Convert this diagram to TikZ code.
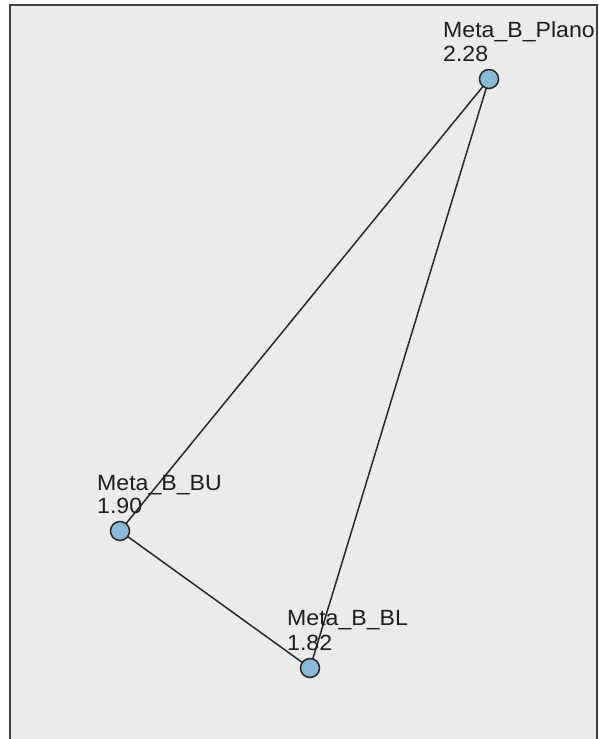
\documentclass[tikz,border=0pt]{standalone}
\usepackage{fontspec}
\setmainfont{Liberation Sans}
\definecolor{panelbg}{RGB}{235,235,235}
\definecolor{panelframe}{RGB}{64,64,64}
\definecolor{nodefill}{RGB}{138,187,214}
\definecolor{edgecol}{RGB}{40,40,40}
\definecolor{labelcol}{RGB}{30,30,30}
\tikzset{
  x=1pt, y=-1pt,
  vertex/.style={circle, draw=edgecol, line width=1.5pt, fill=nodefill, minimum size=19pt, inner sep=0pt},
  link/.style={draw=edgecol, line width=1.5pt},
  tag/.style={anchor=base west, inner sep=0pt, text=labelcol, align=left,
    xscale=1.05, font=\fontsize{22}{24}\selectfont},
}
\begin{document}
\begin{tikzpicture}
  \useasboundingbox (0,0) rectangle (599,739);
  % plot panel
  \fill[panelbg] (10,5) rectangle (597,745);
  \begin{scope}
    \clip (10,5) rectangle (597,745);
    % vertex positions
    \coordinate (plano) at (489,79);
    \coordinate (bu) at (120,531);
    \coordinate (bl) at (310,668);
    % edges
    \path[link] (plano) -- (bu);
    \path[link] (plano) -- (bl);
    \path[link] (bu) -- (bl);
    % vertices on top of edges
    \node[vertex] (nplano) at (plano) {};
    \node[vertex] (nbu) at (bu) {};
    \node[vertex] (nbl) at (bl) {};
    % labels
    \node[tag] (lplano) at (443,37) {Meta\_B\_Plano};
    \node[tag] (vplano) at (443,61) {2.28};
    \node[tag] (lbu) at (97,490) {Meta\_B\_BU};
    \node[tag] (vbu) at (97,513) {1.90};
    \node[tag] (lbl) at (287,625) {Meta\_B\_BL};
    \node[tag] (vbl) at (287,650) {1.82};
  \end{scope}
  % frame, open at the bottom
  \draw[panelframe, line width=2pt] (10,745) -- (10,5) -- (597,5) -- (597,745);
\end{tikzpicture}
\end{document}
